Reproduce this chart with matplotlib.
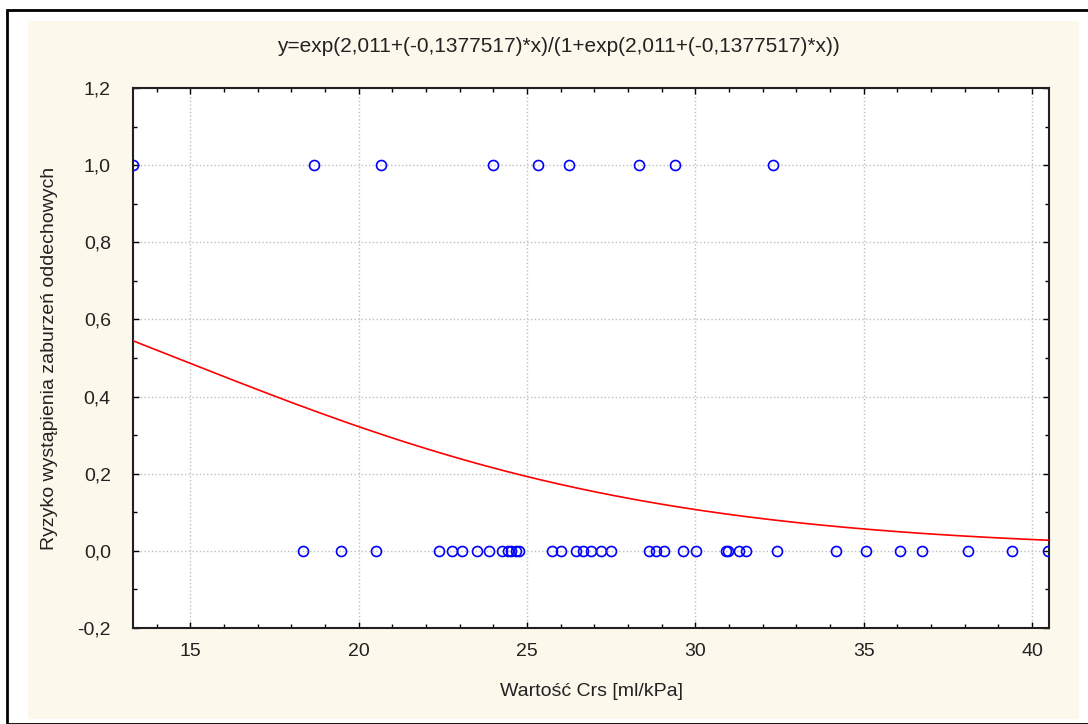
import numpy as np
import matplotlib
matplotlib.use("Agg")
import matplotlib.pyplot as plt
from matplotlib.patches import Rectangle
from matplotlib.ticker import MultipleLocator, FuncFormatter

plt.rcParams['font.family'] = ['Liberation Sans', 'DejaVu Sans']
plt.rcParams['font.size'] = 14

# obserwacje: wartosc Crs dla chorych (1) i zdrowych (0)
crs_1 = [13.3, 18.66, 20.65, 23.98, 25.34, 26.24, 28.32, 29.39, 32.30]
crs_0 = [18.35, 19.48, 20.53, 22.38, 22.78, 23.08, 23.52, 23.87, 24.27, 24.43,
         24.53, 24.66, 24.76, 25.73, 26.00, 26.44, 26.65, 26.89, 27.19, 27.49,
         28.61, 28.82, 29.06, 29.63, 30.01, 30.90, 30.96, 31.29, 31.50, 32.42,
         34.17, 35.07, 36.08, 36.73, 38.10, 39.41, 40.48]

# model logistyczny z tytulu
b0 = 2.011
b1 = -0.1377517

x_min, x_max = 13.3, 40.5
xs = np.linspace(x_min, x_max, 300)
ys = np.exp(b0 + b1 * xs) / (1 + np.exp(b0 + b1 * xs))

fig = plt.figure(figsize=(10.88, 7.24), dpi=100)
fig.patch.set_facecolor('white')
W, H = 1088.0, 724.0
# ramka + kremowe tlo
fig.patches.append(Rectangle((7 / W, 0), 1.2, 1 - 10 / H, transform=fig.transFigure,
                             facecolor='none', edgecolor='black', linewidth=2, zorder=-2))
fig.patches.append(Rectangle((28 / W, 1 - 719 / H), (1079 - 28) / W, (719 - 21) / H,
                             transform=fig.transFigure, facecolor='#fdf8ec',
                             edgecolor='none', zorder=-2))

ax = fig.add_axes([133 / W, 1 - 628 / H, 916 / W, 540 / H])
ax.set_zorder(1)
ax.set_facecolor('white')

ax.plot(xs, ys, color='red', linewidth=1.2, zorder=3)
ax.plot(crs_1, np.ones(len(crs_1)), 'o', mfc='none', mec='#0000ff', ms=7.2, mew=1.2, zorder=4)
ax.plot(crs_0, np.zeros(len(crs_0)), 'o', mfc='none', mec='#0000ff', ms=7.2, mew=1.2, zorder=4)

ax.set_xlim(x_min, x_max)
ax.set_ylim(-0.2, 1.2)
ax.xaxis.set_major_locator(MultipleLocator(5))
ax.xaxis.set_minor_locator(MultipleLocator(1))
ax.yaxis.set_major_locator(MultipleLocator(0.2))
ax.yaxis.set_minor_locator(MultipleLocator(0.1))
ax.yaxis.set_major_formatter(FuncFormatter(lambda v, p: ('%.1f' % v).replace('.', ',').replace('-0,0', '0,0')))
ax.tick_params(which='both', direction='in', top=True, right=True, colors='black',
               labelcolor='#222222')
ax.tick_params(which='major', length=4, width=1)
ax.tick_params(axis='y', which='major', pad=16)
ax.tick_params(axis='x', which='major', pad=11)
ax.tick_params(which='minor', length=3, width=1)
ax.grid(True, which='major', linestyle=':', color='#c0c0c0', linewidth=1)
for s in ax.spines.values():
    s.set_linewidth(1.5)
    s.set_color('#202020')

ax.set_xlabel('Wartość Crs [ml/kPa]', labelpad=16, color='#222222')
ax.set_ylabel('Ryzyko wystąpienia zaburzeń oddechowych', labelpad=14, color='#222222')
fig.text(558 / W, 1 - 46 / H, 'y=exp(2,011+(-0,1377517)*x)/(1+exp(2,011+(-0,1377517)*x))',
         ha='center', va='center', color='#222222', fontsize=15)

fig.savefig('out.png', dpi=100)
